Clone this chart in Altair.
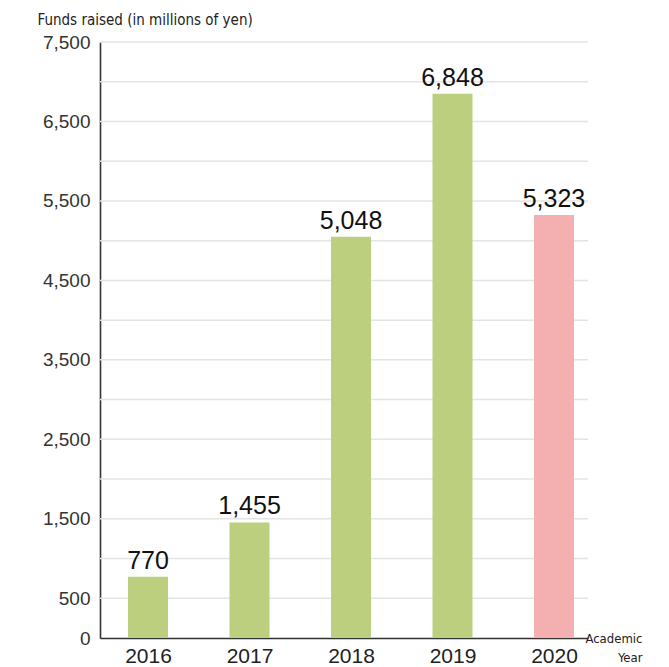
import altair as alt
import pandas as pd

years = [2016, 2017, 2018, 2019, 2020]
funds = [770, 1455, 5048, 6848, 5323]
grid_values = [500, 1000, 1500, 2000, 2500, 3000, 3500, 4000, 4500, 5000, 5500, 6000, 6500, 7000, 7500]
label_values = [0, 500, 1500, 2500, 3500, 4500, 5500, 6500, 7500]
highlight_year = 2020

df = pd.DataFrame({"year": years, "funds": funds})
grid_df = pd.DataFrame({"funds": grid_values})

GREEN = "#bbcf7f"
PINK = "#f4b0b0"
NARROW = "Liberation Sans Narrow, DejaVu Sans Condensed, Arial Narrow, sans-serif"
SANS = "Liberation Sans, Arial, Helvetica, sans-serif"

x_enc = alt.X(
    "year:Q",
    scale=alt.Scale(domain=[2015.527, 2020.335], nice=False, zero=False, padding=0),
    axis=alt.Axis(
        values=years,
        format="d",
        labelAngle=0,
        ticks=False,
        tickSize=0,
        grid=False,
        domain=True,
        domainColor="#333333",
        domainWidth=1.6,
        labelFlush=False,
        labelOverlap=False,
        labelFont=SANS,
        labelFontSize=21,
        labelColor="#222222",
        labelPadding=7,
        title=["Academic", "Year"],
        titleFont=NARROW,
        titleFontSize=13,
        titleFontWeight="normal",
        titleColor="#222222",
        titleAlign="right",
        titleAnchor="start",
        titleBaseline="alphabetic",
        titleX=542,
        titleY=4,
        titleLineHeight=19,
    ),
)

y_enc = alt.Y(
    "funds:Q",
    scale=alt.Scale(domain=[0, 7500], nice=False, zero=True),
    axis=alt.Axis(
        values=label_values,
        format=",d",
        ticks=False,
        tickSize=0,
        grid=False,
        labelOverlap=False,
        labelPadding=10,
        labelFont=SANS,
        labelFontSize=19,
        labelColor="#333333",
        domainColor="#333333",
        domainWidth=1.6,
        title="Funds raised (in millions of yen)",
        titleFont=NARROW,
        titleFontSize=15,
        titleFontWeight="normal",
        titleColor="#222222",
        titleAngle=0,
        titleAlign="left",
        titleBaseline="alphabetic",
        titleX=-63,
        titleY=-18,
    ),
)

grid = alt.Chart(grid_df).mark_rule(color="#e4e4e4", strokeWidth=1.5).encode(y=y_enc)

base = alt.Chart(df).encode(x=x_enc, y=y_enc)

bars = base.mark_bar(size=40).encode(
    color=alt.condition(alt.datum.year == highlight_year, alt.value(PINK), alt.value(GREEN))
)

texts = base.mark_text(
    dy=-8, baseline="alphabetic", font=SANS, fontSize=25, color="#111111"
).encode(text=alt.Text("funds:Q", format=",d"))

chart = (
    alt.layer(grid, bars, texts)
    .properties(
        width=488,
        height=596,
        autosize=alt.AutoSizeParams(type="none"),
        padding={"left": 92, "top": 34, "right": 73, "bottom": 29},
    )
    .configure_view(stroke=None)
)

chart.save("out.html", embed_options={"renderer": "svg", "actions": False})
